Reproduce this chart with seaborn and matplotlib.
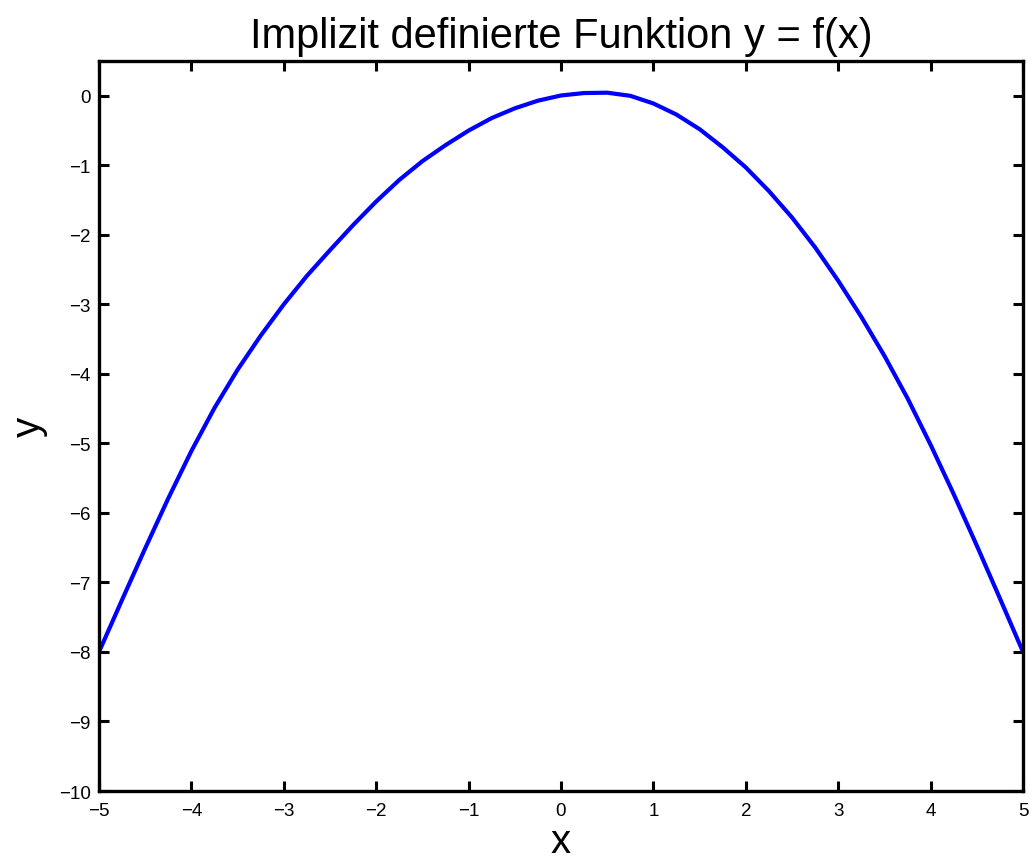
import matplotlib
matplotlib.use("Agg")
import matplotlib.pyplot as plt
import seaborn as sns
import pandas as pd

x_vals = [-5.0, -4.75, -4.5, -4.25, -4.0, -3.75, -3.5, -3.25, -3.0, -2.75,
          -2.5, -2.25, -2.0, -1.75, -1.5, -1.25, -1.0, -0.75, -0.5, -0.25,
          0.0, 0.25, 0.5, 0.75, 1.0, 1.25, 1.5, 1.75, 2.0, 2.25,
          2.5, 2.75, 3.0, 3.25, 3.5, 3.75, 4.0, 4.25, 4.5, 4.75, 5.0]
y_vals = [-8.0, -7.25, -6.51, -5.79, -5.11, -4.49, -3.94, -3.45, -3.0, -2.59,
          -2.22, -1.86, -1.52, -1.21, -0.94, -0.71, -0.50, -0.32, -0.18, -0.07,
          0.005, 0.04, 0.045, 0.0, -0.11, -0.27, -0.48, -0.74, -1.03, -1.37,
          -1.75, -2.18, -2.66, -3.18, -3.74, -4.35, -5.02, -5.73, -6.47, -7.23, -8.0]

x_ticks = [-5, -4, -3, -2, -1, 0, 1, 2, 3, 4, 5]
y_ticks = [0, -1, -2, -3, -4, -5, -6, -7, -8, -9, -10]

sns.set_style("white")
plt.rcParams['font.family'] = ['Liberation Sans', 'DejaVu Sans']
plt.rcParams['axes.unicode_minus'] = True
plt.rcParams['text.color'] = 'black'
plt.rcParams['axes.labelcolor'] = 'black'
plt.rcParams['xtick.color'] = 'black'
plt.rcParams['ytick.color'] = 'black'

df = pd.DataFrame({"x": x_vals, "y": y_vals})

fig = plt.figure(figsize=(10.32, 8.62), dpi=100)
ax = fig.add_axes([0.0959, 0.0812, 0.8954, 0.8468])
sns.lineplot(data=df, x="x", y="y", ax=ax, color="#0000ff", linewidth=3.0, sort=False)

ax.set_xlim(-5, 5)
ax.set_ylim(-10, 0.5)
ax.set_xticks(x_ticks)
ax.set_yticks(y_ticks)
ax.set_xticklabels([str(v).replace('-', '\u2212') for v in x_ticks], fontsize=13.5)
ax.set_yticklabels([str(v).replace('-', '\u2212') for v in y_ticks], fontsize=13.5)
ax.tick_params(axis='x', pad=8)
ax.tick_params(axis='y', pad=6)
ax.tick_params(direction='in', length=7, width=2.2, top=True, right=True,
               bottom=True, left=True, colors='black')
for s in ax.spines.values():
    s.set_visible(True)
    s.set_linewidth(2.4)
    s.set_color('black')

ax.set_title("Implizit definierte Funktion y = f(x)", fontsize=30, pad=10, color='black')
ax.set_xlabel("x", fontsize=29, labelpad=2)
ax.set_ylabel("y", fontsize=29, labelpad=8)

fig.savefig("out.png", dpi=100)
